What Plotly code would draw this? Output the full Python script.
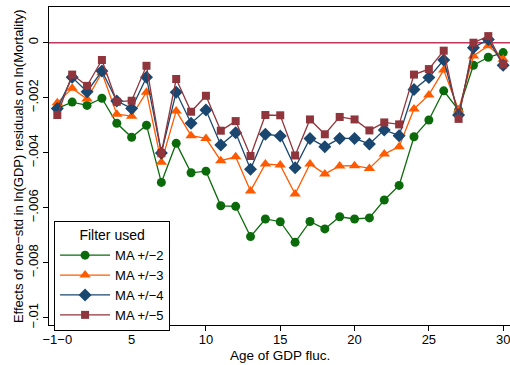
import plotly.graph_objects as go

# Age of GDP fluctuation (0 is the in-utero year, labelled "-1-0")
age = list(range(0, 31))

ma2 = [-0.00239, -0.00216, -0.00228, -0.00202, -0.00293, -0.00344, -0.00300, -0.00508,
       -0.00366, -0.00473, -0.00467, -0.00593, -0.00595, -0.00705, -0.00641, -0.00651,
       -0.00726, -0.00650, -0.00677, -0.00633, -0.00641, -0.00637, -0.00572, -0.00519,
       -0.00342, -0.00281, -0.00175, -0.00245, -0.00082, -0.00053, -0.00036]
ma3 = [-0.00218, -0.00166, -0.00205, -0.00109, -0.00260, -0.00267, -0.00180, -0.00435,
       -0.00248, -0.00338, -0.00348, -0.00429, -0.00415, -0.00539, -0.00441, -0.00445,
       -0.00550, -0.00441, -0.00477, -0.00448, -0.00447, -0.00457, -0.00405, -0.00378,
       -0.00241, -0.00190, -0.00099, -0.00245, -0.00048, -0.00011, -0.00060]
ma4 = [-0.00239, -0.00126, -0.00178, -0.00103, -0.00212, -0.00239, -0.00126, -0.00401,
       -0.00180, -0.00293, -0.00245, -0.00372, -0.00327, -0.00460, -0.00333, -0.00339,
       -0.00455, -0.00348, -0.00378, -0.00348, -0.00348, -0.00368, -0.00317, -0.00338,
       -0.00170, -0.00127, -0.00063, -0.00263, -0.00018, 0.00012, -0.00082]
ma5 = [-0.00263, -0.00116, -0.00157, -0.00063, -0.00215, -0.00211, -0.00084, -0.00402,
       -0.00132, -0.00251, -0.00193, -0.00320, -0.00285, -0.00412, -0.00263, -0.00264,
       -0.00410, -0.00279, -0.00333, -0.00270, -0.00279, -0.00319, -0.00290, -0.00297,
       -0.00116, -0.00096, -0.00029, -0.00277, 0.00000, 0.00024, -0.00079]

x_tickvals = [0, 5, 10, 15, 20, 25, 30]
x_ticktext = ["\u22121\u22120", "5", "10", "15", "20", "25", "30"]
y_tickvals = [0, -0.002, -0.004, -0.006, -0.008, -0.01]
y_ticktext = ["0", "\u2212.002", "\u2212.004", "\u2212.006", "\u2212.008", "\u2212.01"]

series = [
    ("MA +/\u22122", ma2, "#0b6b0b", "circle", 9),
    ("MA +/\u22123", ma3, "#ff5a00", "triangle-up", 10),
    ("MA +/\u22124", ma4, "#1a476f", "diamond", 10),
    ("MA +/\u22125", ma5, "#90353b", "square", 8),
]

fig = go.Figure()
for name, vals, color, sym, size in series:
    fig.add_trace(go.Scatter(
        x=age, y=vals, name=name, mode="lines+markers",
        line=dict(color=color, width=1.3),
        marker=dict(symbol=sym, size=size, color=color, line=dict(width=0)),
    ))

# reference line at zero effect
fig.add_shape(type="line", xref="paper", x0=0, x1=1, yref="y", y0=0, y1=0,
              line=dict(color="#c0365a", width=1.4), layer="below")

font = "Liberation Sans, Arial, sans-serif"
fig.update_layout(
    width=510, height=365,
    margin=dict(l=49, r=0, t=7, b=40),
    paper_bgcolor="white", plot_bgcolor="white",
    font=dict(family=font, size=13, color="black"),
    showlegend=True,
    legend=dict(
        title=dict(text="Filter used", side="top center", font=dict(size=14)),
        x=0.011, y=0.327, xanchor="left", yanchor="top",
        bgcolor="white", bordercolor="black", borderwidth=1,
        font=dict(size=13), tracegroupgap=0, itemwidth=50, entrywidth=62,
    ),
    xaxis=dict(
        range=[-0.56, 30.46], tickvals=x_tickvals, ticktext=x_ticktext,
        showgrid=False, zeroline=False, showline=True, linecolor="black",
        linewidth=1.3, mirror=True, ticks="outside", ticklen=5,
        tickcolor="black", tickfont=dict(size=13),
        ticklabeloverflow="allow", ticklabelstandoff=-3,
    ),
    yaxis=dict(
        range=[-0.010265, 0.001298], tickvals=y_tickvals, ticktext=y_ticktext,
        showgrid=False, zeroline=False, showline=True, linecolor="black",
        linewidth=1.3, ticks="outside", ticklen=5, tickcolor="black",
        tickangle=-90, tickfont=dict(size=13),
    ),
    annotations=[
        dict(text="Age of GDP fluc.", xref="paper", yref="paper", x=0.5, y=-0.096,
             xanchor="center", yanchor="middle", showarrow=False, font=dict(size=13.5)),
        dict(text="Effects of one\u2212std in ln(GDP) residuals on ln(Mortality)",
             xref="paper", yref="paper", x=-0.067, y=0.5, textangle=-90,
             xanchor="center", yanchor="middle", showarrow=False, font=dict(size=13)),
    ],
)

fig.write_html("out.html")
